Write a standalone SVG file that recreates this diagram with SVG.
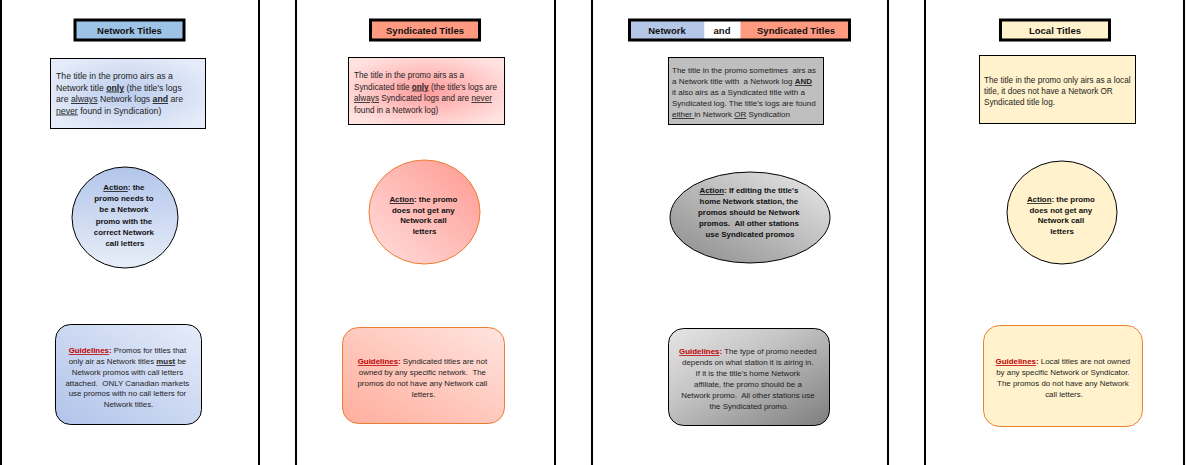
<svg xmlns="http://www.w3.org/2000/svg" width="1186" height="465" viewBox="0 0 1186 465">
<defs>
<style>
.sep{stroke:#000;stroke-width:2}
.hdr{stroke:#000;stroke-width:3}
.ht{font-family:"Liberation Sans",Arial,sans-serif;font-size:9.5px;font-weight:bold;fill:#111;text-anchor:middle}
.tb{font-family:"Liberation Sans",Arial,sans-serif;font-size:8.2px;fill:#1e1e1e}
.ct{font-family:"Liberation Sans",Arial,sans-serif;font-size:7.9px;font-weight:bold;fill:#111;text-anchor:middle}
.gt{font-family:"Liberation Sans",Arial,sans-serif;font-size:7.9px;fill:#1e1e1e;text-anchor:middle}
.u{text-decoration:underline}
.b{font-weight:bold}
.g{font-weight:bold;fill:#C00000}
.k{stroke:#000;stroke-width:1}
.o{stroke:#ED7D31;stroke-width:1}
</style>
<radialGradient id="gNetBox" cx="0.5" cy="0.5" r="0.6">
<stop offset="0" stop-color="#BDCDEE"/><stop offset="1" stop-color="#E6ECF9"/>
</radialGradient>
<radialGradient id="gSynBox" cx="0.5" cy="0.5" r="0.6">
<stop offset="0" stop-color="#FF9C9C"/><stop offset="1" stop-color="#FFE3E1"/>
</radialGradient>
<linearGradient id="gNetCirc" x1="0" y1="0" x2="0" y2="1">
<stop offset="0" stop-color="#B2C5EA"/><stop offset="1" stop-color="#E8EEF9"/>
</linearGradient>
<linearGradient id="gNetGuide" x1="1" y1="0" x2="0" y2="1">
<stop offset="0" stop-color="#E6ECF9"/><stop offset="1" stop-color="#B0C3EA"/>
</linearGradient>
<linearGradient id="gSynCirc" x1="1" y1="0" x2="0" y2="1">
<stop offset="0" stop-color="#FF9990"/><stop offset="1" stop-color="#FFDEDE"/>
</linearGradient>
<linearGradient id="gSynGuide" x1="1" y1="0" x2="0" y2="1">
<stop offset="0" stop-color="#FFE4E0"/><stop offset="1" stop-color="#FFAE9C"/>
</linearGradient>
<linearGradient id="gBothCirc" x1="1" y1="0" x2="0" y2="1">
<stop offset="0" stop-color="#EAEAEA"/><stop offset="1" stop-color="#8A8A8A"/>
</linearGradient>
<linearGradient id="gBothGuide" x1="0" y1="0" x2="1" y2="1">
<stop offset="0" stop-color="#E6E6E6"/><stop offset="0.4" stop-color="#C4C4C4"/><stop offset="1" stop-color="#7E7E7E"/>
</linearGradient>
</defs>
<rect x="0" y="0" width="1186" height="465" fill="#fff"/>

<g id="separators">
<line class="sep" x1="1" y1="0" x2="1" y2="465"/>
<line class="sep" x1="259" y1="0" x2="259" y2="465"/>
<line class="sep" x1="296" y1="0" x2="296" y2="465"/>
<line class="sep" x1="555" y1="0" x2="555" y2="465"/>
<line class="sep" x1="592" y1="0" x2="592" y2="465"/>
<line class="sep" x1="888" y1="0" x2="888" y2="465"/>
<line class="sep" x1="925" y1="0" x2="925" y2="465"/>
<line class="sep" x1="1184" y1="0" x2="1184" y2="465"/>
</g>
<g id="connectors"/>

<!-- Column 1: Network -->
<g id="hdr-network">
<rect class="hdr" x="75" y="20" width="109" height="20" fill="#9DC3E6"/>
<text class="ht" x="129.5" y="33.5">Network Titles</text>
</g>
<g id="desc-network">
<rect class="k" x="50.5" y="58.5" width="155" height="70" fill="url(#gNetBox)"/>
<text class="tb" style="font-size:8.7px">
<tspan x="56" y="79">The title in the promo airs as a</tspan>
<tspan x="56" y="90.5">Network title <tspan class="b u">only</tspan> (the title's logs</tspan>
<tspan x="56" y="102">are <tspan class="u">always</tspan> Network logs <tspan class="b u">and</tspan> are</tspan>
<tspan x="56" y="113.5"><tspan class="u">never</tspan> found in Syndication)</tspan>
</text>
</g>
<g id="action-network">
<ellipse class="k" cx="125" cy="217.5" rx="53" ry="50.5" fill="url(#gNetCirc)"/>
<text class="ct">
<tspan x="125" y="190"><tspan class="u">Action</tspan>: the</tspan>
<tspan x="125" y="201.2">promo needs to</tspan>
<tspan x="125" y="212.4">be a Network</tspan>
<tspan x="125" y="223.6">promo with the</tspan>
<tspan x="125" y="234.8">correct Network</tspan>
<tspan x="125" y="246">call letters</tspan>
</text>
</g>
<g id="guide-network">
<rect class="k" x="55.5" y="324.5" width="146" height="100" rx="15" fill="url(#gNetGuide)"/>
<text class="gt">
<tspan x="128.5" y="353"><tspan class="g u">Guidelines</tspan><tspan class="g">:</tspan> Promos for titles that</tspan>
<tspan x="128.5" y="364">only air as Network titles <tspan class="b u">must</tspan> be</tspan>
<tspan x="128.5" y="374.8">Network promos with call letters</tspan>
<tspan x="128.5" y="385.6">attached. &#160;ONLY Canadian markets</tspan>
<tspan x="128.5" y="396.4">use promos with no call letters for</tspan>
<tspan x="128.5" y="407.2">Network titles.</tspan>
</text>
</g>

<!-- Column 2: Syndicated -->
<g id="hdr-syndicated">
<rect class="hdr" x="370.5" y="20" width="109" height="20" fill="#FF9980"/>
<text class="ht" x="425" y="33.5">Syndicated Titles</text>
</g>
<g id="desc-syndicated">
<rect class="k" x="348.5" y="57.5" width="156" height="67" fill="url(#gSynBox)"/>
<text class="tb">
<tspan x="354" y="78">The title in the promo airs as a</tspan>
<tspan x="354" y="89.5">Syndicated title <tspan class="b u">only</tspan> (the title's logs are</tspan>
<tspan x="354" y="101"><tspan class="u">always</tspan> Syndicated logs and are <tspan class="u">never</tspan></tspan>
<tspan x="354" y="112.5">found in a Network log)</tspan>
</text>
</g>
<g id="action-syndicated">
<ellipse class="o" cx="424.5" cy="212" rx="55.5" ry="52" fill="url(#gSynCirc)"/>
<text class="ct">
<tspan x="424.5" y="202"><tspan class="u">Action</tspan>: the promo</tspan>
<tspan x="424.5" y="212.5">does not get any</tspan>
<tspan x="424.5" y="223">Network call</tspan>
<tspan x="424.5" y="233.5">letters</tspan>
</text>
</g>
<g id="guide-syndicated">
<rect class="o" x="342.5" y="327.5" width="162" height="96" rx="16" fill="url(#gSynGuide)"/>
<text class="gt">
<tspan x="423.5" y="364"><tspan class="g u">Guidelines</tspan><tspan class="g">:</tspan> Syndicated titles are not</tspan>
<tspan x="423.5" y="375">owned by any specific network. &#160;The</tspan>
<tspan x="423.5" y="386">promos do not have any Network call</tspan>
<tspan x="423.5" y="397">letters.</tspan>
</text>
</g>

<!-- Column 3: Network and Syndicated -->
<g id="hdr-both">
<rect x="629.5" y="20" width="75" height="20" fill="#B4C7E7"/>
<rect x="704.5" y="20" width="36" height="20" fill="#FFFFFF"/>
<rect x="740.5" y="20" width="109" height="20" fill="#FF9980"/>
<rect class="hdr" x="629.5" y="20" width="220" height="20" fill="none"/>
<text class="ht" x="667" y="33.5">Network</text>
<text class="ht" x="722" y="33.5">and</text>
<text class="ht" x="796" y="33.5">Syndicated Titles</text>
</g>
<g id="desc-both">
<rect class="k" x="668.5" y="57.5" width="155" height="67" fill="#BFBFBF"/>
<text class="tb" style="font-size:8px">
<tspan x="672" y="73">The title in the promo sometimes &#160;airs as</tspan>
<tspan x="672" y="84">a Network title with &#160;a Network log <tspan class="b u">AND</tspan></tspan>
<tspan x="672" y="95">it also airs as a Syndicated title with a</tspan>
<tspan x="672" y="106">Syndicated log. The title's logs are found</tspan>
<tspan x="672" y="117"><tspan class="u">either&#160;</tspan>in Network <tspan class="u">OR</tspan> Syndication</tspan>
</text>
</g>
<g id="action-both">
<ellipse class="k" cx="750" cy="217.5" rx="80" ry="45.5" fill="url(#gBothCirc)"/>
<text class="ct">
<tspan x="750" y="193"><tspan class="u">Action</tspan>: If editing the title's</tspan>
<tspan x="750" y="204">home Network station, the</tspan>
<tspan x="750" y="215">promos should be Network</tspan>
<tspan x="750" y="226">promos. &#160;All other stations</tspan>
<tspan x="750" y="237">use Syndicated promos</tspan>
</text>
</g>
<g id="guide-both">
<rect class="k" x="668.5" y="328.5" width="161" height="97" rx="15" fill="url(#gBothGuide)"/>
<text class="gt">
<tspan x="749" y="354"><tspan class="g u">Guidelines</tspan><tspan class="g">:</tspan> The type of promo needed</tspan>
<tspan x="749" y="365">depends on what station it is airing in.</tspan>
<tspan x="749" y="376">If it is the title's home Network</tspan>
<tspan x="749" y="387">affiliate, the promo should be a</tspan>
<tspan x="749" y="398">Network promo. &#160;All other stations use</tspan>
<tspan x="749" y="409">the Syndicated promo.</tspan>
</text>
</g>

<!-- Column 4: Local -->
<g id="hdr-local">
<rect class="hdr" x="1000.5" y="20" width="109" height="20" fill="#FFF2CC"/>
<text class="ht" x="1055" y="33.5">Local Titles</text>
</g>
<g id="desc-local">
<rect class="k" x="979.5" y="55.5" width="156" height="68" fill="#FFF2CC"/>
<text class="tb">
<tspan x="984" y="83">The title in the promo only airs as a local</tspan>
<tspan x="984" y="94">title, it does not have a Network OR</tspan>
<tspan x="984" y="104.5">Syndicated title log.</tspan>
</text>
</g>
<g id="action-local">
<ellipse class="k" cx="1062" cy="212.5" rx="55" ry="51.5" fill="#FFF2CC"/>
<text class="ct">
<tspan x="1062" y="202"><tspan class="u">Action</tspan>: the promo</tspan>
<tspan x="1062" y="212.5">does not get any</tspan>
<tspan x="1062" y="223">Network call</tspan>
<tspan x="1062" y="233.5">letters</tspan>
</text>
</g>
<g id="guide-local">
<rect class="o" x="983.5" y="325.5" width="159" height="101" rx="16" fill="#FFF2CC"/>
<text class="gt">
<tspan x="1064" y="364"><tspan class="g u">Guidelines</tspan><tspan class="g">:</tspan> Local titles are not owned</tspan>
<tspan x="1064" y="375">by any specific Network or Syndicator.</tspan>
<tspan x="1064" y="386">The promos do not have any Network</tspan>
<tspan x="1064" y="397">call letters.</tspan>
</text>
</g>
</svg>
